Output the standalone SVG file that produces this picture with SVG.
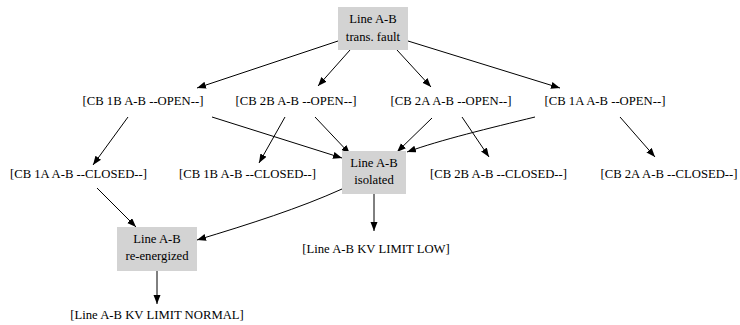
<svg xmlns="http://www.w3.org/2000/svg" width="740" height="325" viewBox="0 0 740 325">
<style>
text{font-family:"Liberation Serif","Times New Roman",serif;font-size:12.7px;fill:#000;text-anchor:middle}
.box{fill:#d3d3d3;stroke:none}
.e{fill:none;stroke:#000;stroke-width:1;marker-end:url(#ah)}
</style>
<defs>
<marker id="ah" markerUnits="userSpaceOnUse" markerWidth="10" markerHeight="8" refX="9" refY="3.5" orient="auto">
<path d="M0,0 L9,3.5 L0,7 Z" fill="#000"/>
</marker>
</defs>
<rect width="740" height="325" fill="#fff"/>
<g id="connectors">
<path class="e" d="M338,41 L197,88"/>
<path class="e" d="M350,50 L318,86"/>
<path class="e" d="M397,50 L431,87"/>
<path class="e" d="M408,41 L560,88"/>
<path class="e" d="M128,117 L93,165"/>
<path class="e" d="M212,117 L342,158"/>
<path class="e" d="M285,117 L259,163"/>
<path class="e" d="M315,117 L350,154"/>
<path class="e" d="M432,118 L397,152"/>
<path class="e" d="M462,117 L489,157"/>
<path class="e" d="M535,117 C490,128 440,140 407,152"/>
<path class="e" d="M620,117 L655,157"/>
<path class="e" d="M97,188 L136,227"/>
<path class="e" d="M342,189 C300,208 250,224 197,240"/>
<path class="e" d="M374,194 L374,231"/>
<path class="e" d="M157,271 L157,304"/>
</g>
<g id="n_fault"><rect class="box" x="338" y="7" width="70" height="43"/><text x="373" y="23">Line A-B</text><text x="373" y="40.5">trans. fault</text></g>
<g id="n_cb1b_open"><text x="143" y="104.5">[CB 1B A-B --OPEN--]</text></g>
<g id="n_cb2b_open"><text x="296" y="104.5">[CB 2B A-B --OPEN--]</text></g>
<g id="n_cb2a_open"><text x="451" y="104.5">[CB 2A A-B --OPEN--]</text></g>
<g id="n_cb1a_open"><text x="605" y="104.5">[CB 1A A-B --OPEN--]</text></g>
<g id="n_cb1a_closed"><text x="78.5" y="178">[CB 1A A-B --CLOSED--]</text></g>
<g id="n_cb1b_closed"><text x="247.5" y="178">[CB 1B A-B --CLOSED--]</text></g>
<g id="n_isolated"><rect class="box" x="342" y="151" width="64" height="43"/><text x="374" y="167.3">Line A-B</text><text x="374" y="184">isolated</text></g>
<g id="n_cb2b_closed"><text x="498.5" y="178">[CB 2B A-B --CLOSED--]</text></g>
<g id="n_cb2a_closed"><text x="669" y="178">[CB 2A A-B --CLOSED--]</text></g>
<g id="n_reenergized"><rect class="box" x="117" y="227" width="80" height="44"/><text x="157" y="243.3">Line A-B</text><text x="157" y="260.3">re-energized</text></g>
<g id="n_low"><text x="376" y="252.5">[Line A-B KV LIMIT LOW]</text></g>
<g id="n_normal"><text x="157" y="318.5">[Line A-B KV LIMIT NORMAL]</text></g>
</svg>
